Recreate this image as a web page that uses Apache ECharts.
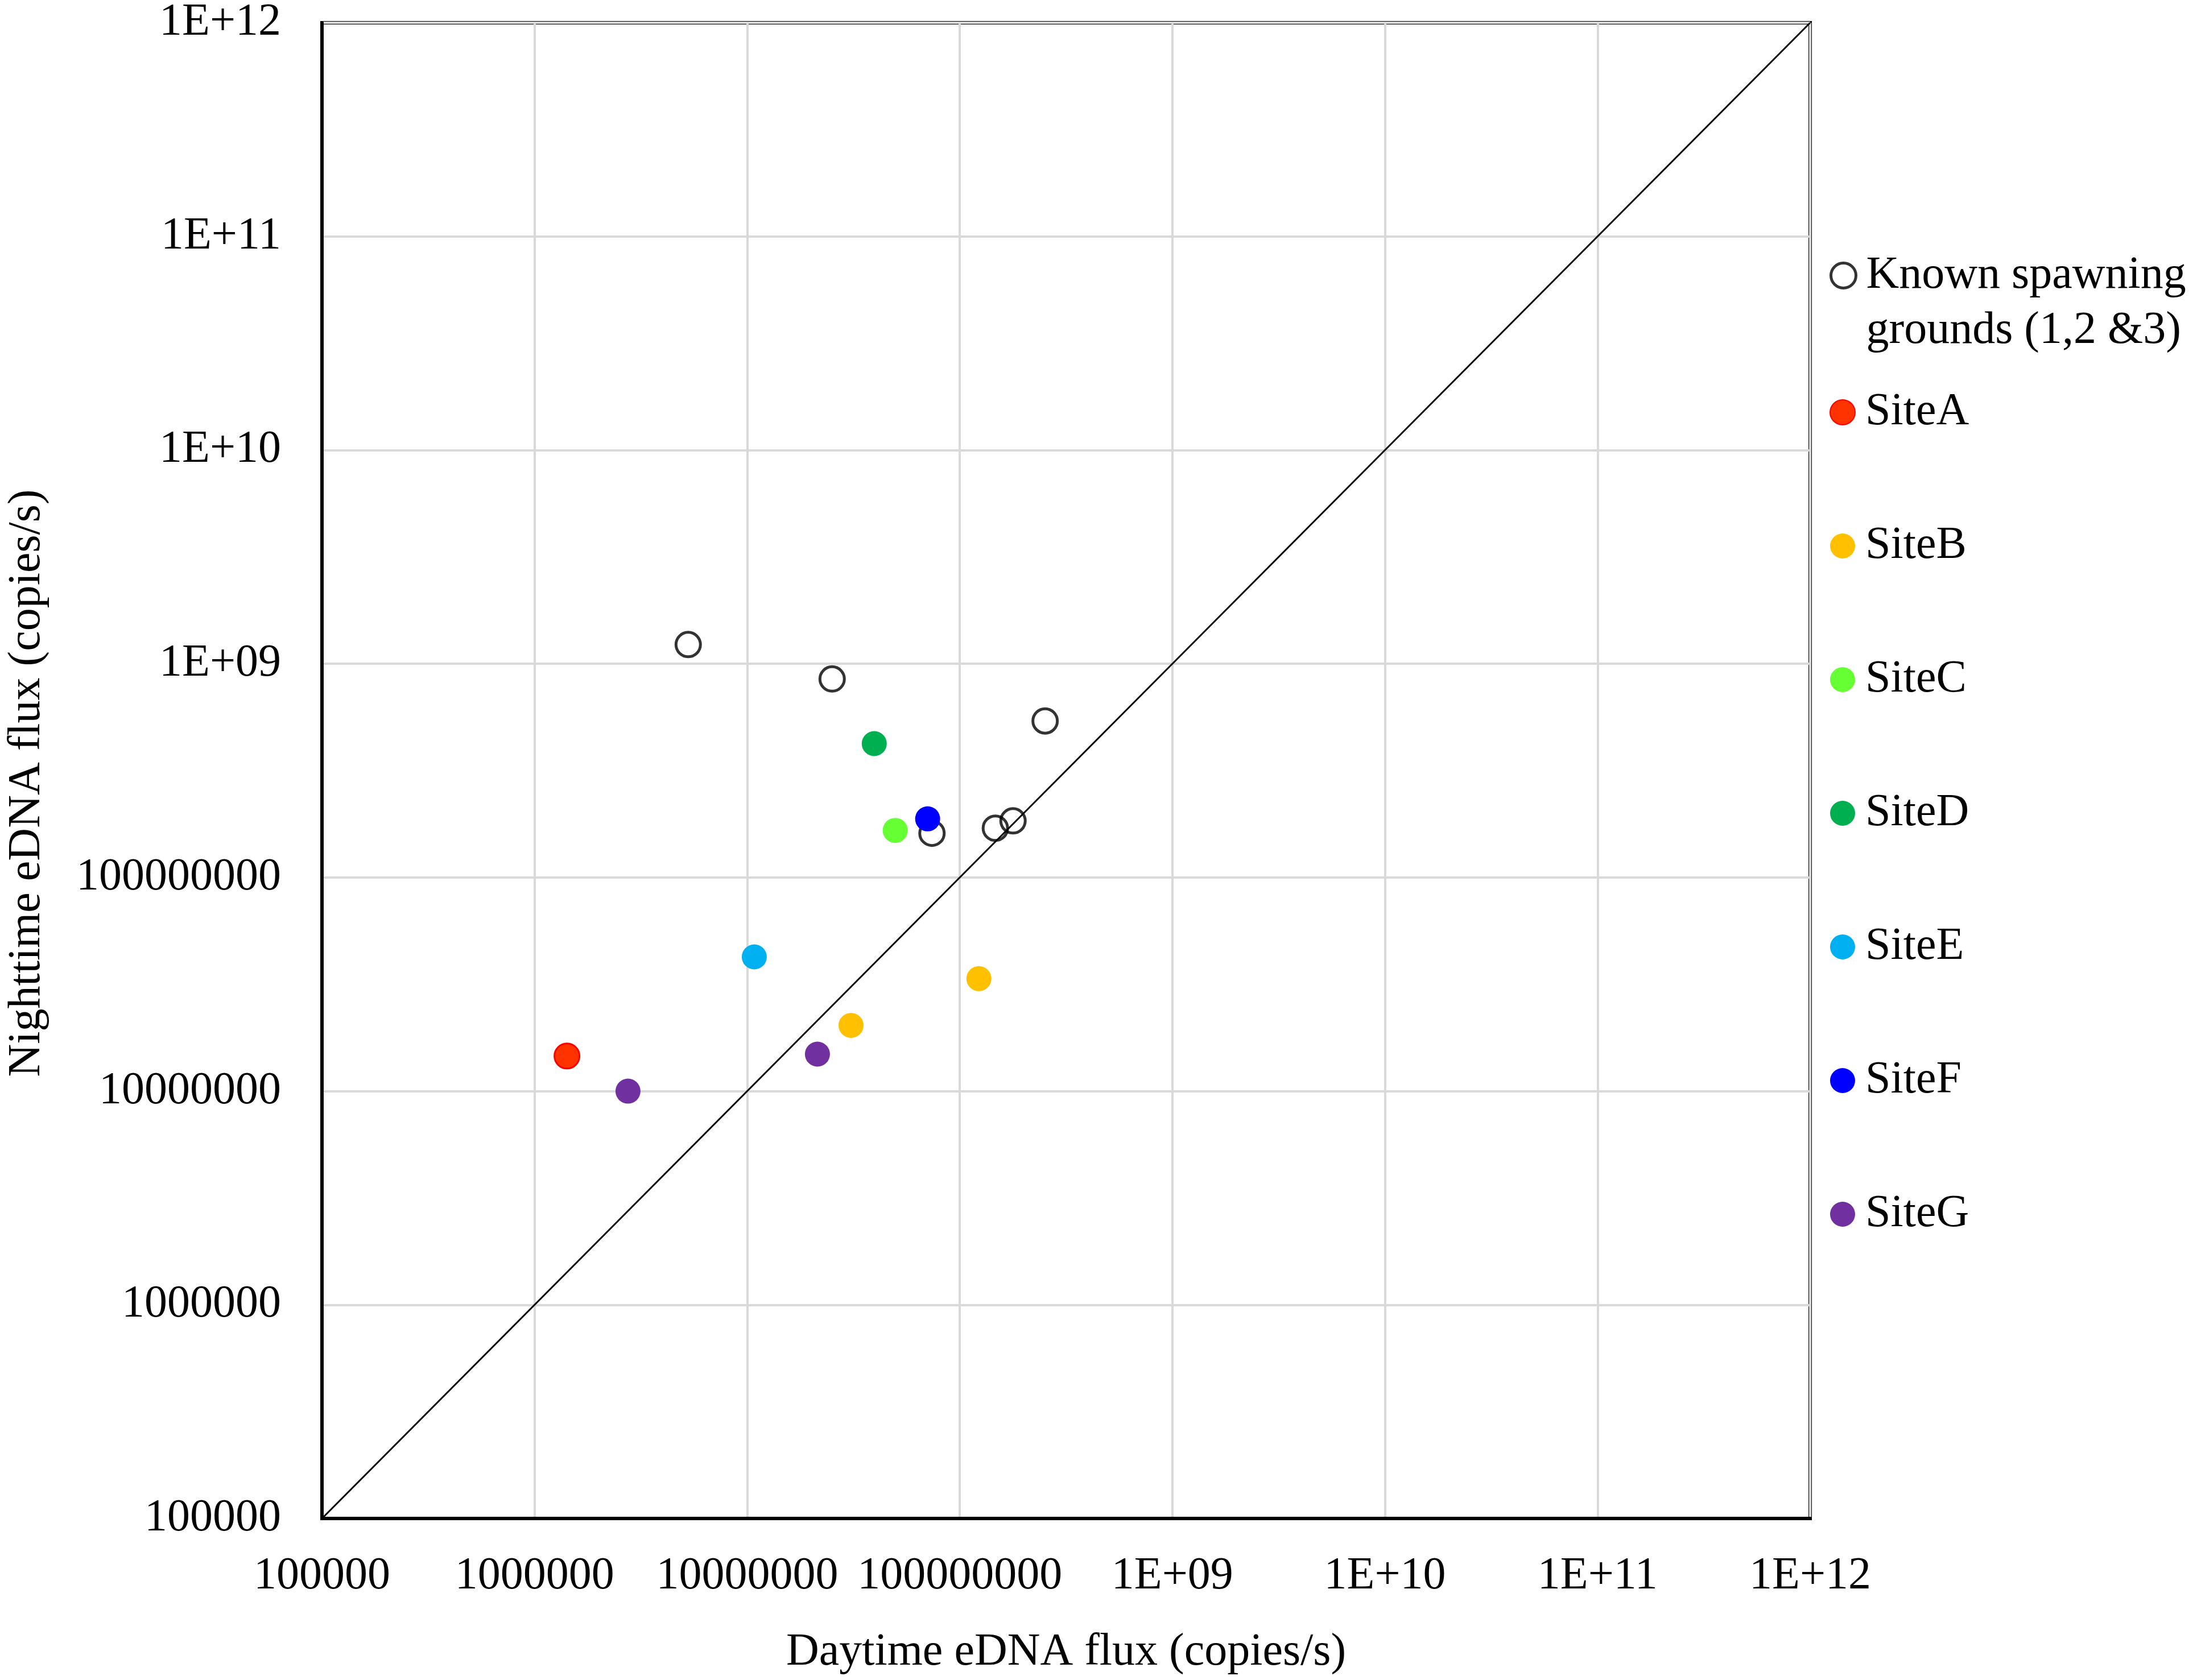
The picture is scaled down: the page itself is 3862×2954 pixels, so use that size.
<!DOCTYPE html>
<html>
<head>
<meta charset="utf-8">
<script src="https://cdn.jsdelivr.net/npm/echarts@6/dist/echarts.min.js"></script>
<style>
html,body{margin:0;padding:0;background:#fff;}
#chart{width:3862px;height:2954px;}
</style>
</head>
<body>
<div id="chart"></div>
<script>
// ---- data ----
const tickLabels = ["100000", "1000000", "10000000", "100000000", "1E+09", "1E+10", "1E+11", "1E+12"];
const xTitle = "Daytime eDNA flux (copies/s)";
const yTitle = "Nighttime eDNA flux (copies/s)";

const knownName = "Known spawning grounds (1,2 &3)";
const knownLines = ["Known spawning", "grounds (1,2 &3)"];
const knownX = [5.28e6, 2.51e7, 2.52e8, 7.4e7, 1.47e8, 1.78e8];
const knownY = [1.23e9, 8.49e8, 5.40e8, 1.61e8, 1.70e8, 1.84e8];

const siteNames = ["SiteA", "SiteB", "SiteC", "SiteD", "SiteE", "SiteF", "SiteG"];
const siteColors = ["#FF3300", "#FFC000", "#66FF33", "#00B050", "#00B0F0", "#0000FF", "#7030A0"];
const siteX = [[1.42e6], [3.08e7, 1.23e8], [4.97e7], [3.96e7], [1.08e7], [7.06e7], [2.75e6, 2.14e7]];
const siteY = [[1.46e7], [2.03e7, 3.36e7], [1.66e8], [4.23e8], [4.25e7], [1.88e8], [1.0e7, 1.49e7]];

const lineX = [1e5, 1e12];
const lineY = [1e5, 1e12];

// ---- chart ----
const font = "'Liberation Serif', 'Times New Roman', serif";
const chart = echarts.init(document.getElementById('chart'), null, {renderer: 'canvas'});

function fmt(v) {
  const e = Math.round(Math.log10(v));
  return tickLabels[e - 5];
}

const zip = (xs, ys) => xs.map((x, i) => [x, ys[i]]);

const series = [];
series.push({
  name: knownName,
  type: 'scatter',
  symbol: 'circle',
  symbolSize: 43,
  data: zip(knownX, knownY),
  itemStyle: {color: 'rgba(255,255,255,0)', borderColor: '#000', borderWidth: 5},
  z: 3
});
siteNames.forEach((n, i) => {
  const st = {color: siteColors[i], opacity: 1};
  if (i === 0) { st.borderColor = '#FF0000'; st.borderWidth = 3; }
  series.push({
    name: n,
    type: 'scatter',
    symbol: 'circle',
    symbolSize: 44,
    data: zip(siteX[i], siteY[i]),
    itemStyle: st,
    z: 4
  });
});
series.push({
  name: 'y=x',
  type: 'line',
  data: zip(lineX, lineY),
  showSymbol: false,
  symbol: 'none',
  lineStyle: {color: '#000', width: 3},
  silent: true,
  z: 2
});

const option = {
  backgroundColor: '#fff',
  animation: false,
  grid: {
    left: 562, right: 680, top: 35, bottom: 284,
    show: true, borderColor: '#000', borderWidth: 6, backgroundColor: 'transparent',
    containLabel: false
  },
  xAxis: {
    type: 'log', logBase: 10, min: 1e5, max: 1e12, splitNumber: 7,
    name: xTitle, nameLocation: 'middle', nameGap: 196,
    nameTextStyle: {fontFamily: font, fontSize: 80, color: '#000'},
    axisLine: {show: true, lineStyle: {color: '#000', width: 6}},
    axisTick: {show: false},
    axisLabel: {formatter: fmt, fontFamily: font, fontSize: 80, color: '#000', margin: 62},
    splitLine: {show: true, lineStyle: {color: '#D9D9D9', width: 4}},
    minorTick: {show: false}, minorSplitLine: {show: false}
  },
  yAxis: {
    type: 'log', logBase: 10, min: 1e5, max: 1e12, splitNumber: 7,
    name: yTitle, nameLocation: 'middle', nameGap: 478,
    nameTextStyle: {fontFamily: font, fontSize: 80, color: '#000', padding: [0, 44, 0, 0]},
    axisLine: {show: true, lineStyle: {color: '#000', width: 6}},
    axisTick: {show: false},
    axisLabel: {formatter: fmt, fontFamily: font, fontSize: 80, color: '#000', margin: 72},
    splitLine: {show: true, lineStyle: {color: '#D9D9D9', width: 4}},
    minorTick: {show: false}, minorSplitLine: {show: false}
  },
  legend: [
    {
      data: [{name: knownName, icon: 'circle', itemStyle: {color: 'rgba(255,255,255,0)', borderColor: '#000', borderWidth: 5}}],
      orient: 'vertical', left: 3211, top: 334,
      itemWidth: 70, itemHeight: 44,
      formatter: () => '\u00a0\n' + knownLines.join('\n'),
      textStyle: {fontFamily: font, fontSize: 80, color: '#000', lineHeight: 97},
      selectedMode: false
    },
    {
      data: siteNames.map(n => ({name: n, icon: 'circle'})),
      orient: 'vertical', left: 3211, top: 672,
      itemWidth: 70, itemHeight: 44, itemGap: 139,
      textStyle: {fontFamily: font, fontSize: 80, color: '#000', lineHeight: 96},
      selectedMode: false
    }
  ],
  series: series
};
chart.setOption(option);
</script>
</body>
</html>
